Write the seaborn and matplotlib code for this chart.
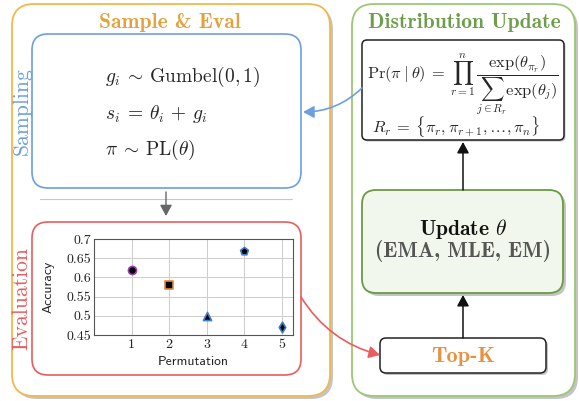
import matplotlib
matplotlib.use('Agg')
import matplotlib.pyplot as plt
import seaborn as sns
import pandas as pd
from matplotlib.patches import FancyBboxPatch, FancyArrowPatch

# ---------------- data ----------------
permutation = [1, 2, 3, 4, 5]
accuracy = [0.62, 0.58, 0.50, 0.67, 0.47]
marker_shapes = ['o', 's', '^', 'p', 'd']
edge_colors = ['#9B3FB5', '#E08A3C', '#3A7FD0', '#3A7FD0', '#3A7FD0']
x_ticks = [1, 2, 3, 4, 5]
x_tick_labels = ['1', '2', '3', '4', '5']
y_ticks = [0.45, 0.5, 0.55, 0.6, 0.65, 0.7]
y_tick_labels = ['0.45', '0.5', '0.55', '0.6', '0.65', '0.7']

sns.set_theme(style='white')
plt.rcParams['mathtext.fontset'] = 'cm'
plt.rcParams['font.family'] = ['cmr10', 'DejaVu Sans']
plt.rcParams['axes.unicode_minus'] = False

W, H = 579, 401
fig = plt.figure(figsize=(W / 100, H / 100), dpi=100)
bg = fig.add_axes([0, 0, 1, 1])
bg.set_xlim(0, W)
bg.set_ylim(H, 0)
bg.axis('off')

ORANGE = '#F2B84B'
ORANGE_T = '#E2A23E'
BLUE = '#6C9FE0'
RED = '#E85D5D'
GREEN = '#9CC875'
GREEN_T = '#6E9E4B'
SHADOW = '#C4C4C4'


def box(x0, y0, x1, y1, r, ec, lw, fc='white', shadow=False, z=1, sh=3):
    style = f'round,pad=0,rounding_size={r}'
    if shadow:
        bg.add_patch(FancyBboxPatch((x0 + sh, y0 + sh), x1 - x0, y1 - y0, boxstyle=style,
                                    fc=SHADOW, ec='none', zorder=z - 0.5))
    bg.add_patch(FancyBboxPatch((x0, y0), x1 - x0, y1 - y0, boxstyle=style,
                                fc=fc, ec=ec, lw=lw, zorder=z))


def arrow(p0, p1, color, rad=0.0, lw=1.2, z=5):
    bg.add_patch(FancyArrowPatch(p0, p1, connectionstyle=f'arc3,rad={rad}',
                                 arrowstyle='-|>,head_length=0.55,head_width=0.3',
                                 mutation_scale=12, color=color, lw=lw, zorder=z,
                                 shrinkA=0, shrinkB=0))


# outer panels
box(12, 4, 330, 396, 22, ORANGE, 1.3, shadow=True, z=1)
box(352, 4, 575, 396, 22, GREEN, 1.3, shadow=True, z=1)

# left inner boxes
box(32, 34, 301, 188, 16, BLUE, 1.2, z=2)
box(32, 222, 301, 375, 16, RED, 1.2, z=2)
bg.plot([40, 292], [199, 199], color='#C8C8C8', lw=0.8, zorder=2)

# right inner boxes
box(362, 40, 564, 140, 5, '#222222', 1.1, shadow=True, z=2, sh=1.5)
box(362, 190, 563, 293, 14, '#6B9A45', 1.3, fc='#F1F7EC', shadow=True, z=2)
box(380, 338, 546, 373, 6, '#222222', 1.1, shadow=True, z=2, sh=2)

# titles
bg.text(170, 22, 'Sample & Eval', family='cmb10', fontsize=15.5, color=ORANGE_T,
        ha='center', va='center', zorder=4)
bg.text(464, 22, 'Distribution Update', family='cmb10', fontsize=15.5, color=GREEN_T,
        ha='center', va='center', zorder=4)
bg.text(22, 111, 'Sampling', family='cmr10', fontsize=15.5, color=BLUE, rotation=90,
        ha='center', va='center', zorder=4)
bg.text(22, 298, 'Evaluation', family='cmr10', fontsize=15.5, color=RED, rotation=90,
        ha='center', va='center', zorder=4)

# sampling equations
for y, s in zip([77, 114, 150], [r'$g_i \:\sim\: \mathrm{Gumbel}(0,1)$',
                                  r'$s_i \:=\: \theta_i \,+\, g_i$',
                                  r'$\pi \:\sim\: \mathrm{PL}(\theta)$']):
    bg.text(105, y, s, fontsize=14, ha='left', va='center', zorder=4)

# PL formula
bg.text(463, 84, r'$\mathrm{Pr}(\pi \:|\: \theta) \:=\: \prod_{r=1}^{n}\, \dfrac{\exp(\theta_{\pi_r})}{\sum_{j \in R_r} \exp(\theta_j)}$',
        fontsize=11.8, ha='center', va='center', zorder=4)
bg.text(456, 127, r'$R_r \:=\: \{\pi_r, \pi_{r+1}, \ldots, \pi_n\}$',
        fontsize=11.8, ha='center', va='center', zorder=4)

# update box
bg.text(463, 229, r'Update $\theta$', family='cmb10', fontsize=15.5, color='#111111',
        ha='center', va='center', zorder=4)
bg.text(463, 251, '(EMA, MLE, EM)', family='cmb10', fontsize=15.5, color='#555555',
        ha='center', va='center', zorder=4)
bg.text(463, 356, 'Top-K', family='cmb10', fontsize=16, color='#E8923F',
        ha='center', va='center', zorder=4)

# arrows
arrow((166, 192), (166, 216), '#666666', lw=1.0)
arrow((463, 190), (463, 142), '#111111', lw=1.1)
arrow((463, 338), (463, 295), '#111111', lw=1.1)
arrow((362, 88), (303, 112), BLUE, rad=-0.2, lw=1.2)
arrow((301, 297), (380, 355), RED, rad=0.2, lw=1.2)

# ---------------- scatter ----------------
ax = fig.add_axes([94 / W, (H - 335) / H, (293 - 94) / W, (335 - 239) / H])
ax.set_facecolor('white')
df = pd.DataFrame({'Permutation': permutation, 'Accuracy': accuracy})
for i, row in df.iterrows():
    sns.scatterplot(x=[row['Permutation']], y=[row['Accuracy']], marker=marker_shapes[i],
                    s=34 if marker_shapes[i] != 'd' else 30, color='black',
                    edgecolor=edge_colors[i], linewidth=1.2, ax=ax, zorder=3, legend=False)
ax.set_xlim(0, 5.3)
ax.set_ylim(0.45, 0.7)
ax.set_xticks(x_ticks)
ax.set_xticklabels(x_tick_labels, family='cmr10', fontsize=10)
ax.set_yticks(y_ticks)
ax.set_yticklabels(y_tick_labels, family='cmr10', fontsize=10)
ax.grid(True, color='#CCCCCC', lw=0.7)
ax.set_axisbelow(True)
for sp in ax.spines.values():
    sp.set_color('#555555')
    sp.set_linewidth(0.8)
ax.tick_params(direction='in', length=0, pad=2, colors='#222222')
ax.tick_params(axis='x', pad=3)
ax.set_xlabel('Permutation', family='cmss10', fontsize=9.8, color='#222222')
ax.set_ylabel('Accuracy', family='cmss10', fontsize=9.8, color='#222222')
ax.xaxis.set_label_coords(0.5, -0.22)
ax.yaxis.set_label_coords(-0.2, 0.5)

fig.savefig('out.png', dpi=100)
